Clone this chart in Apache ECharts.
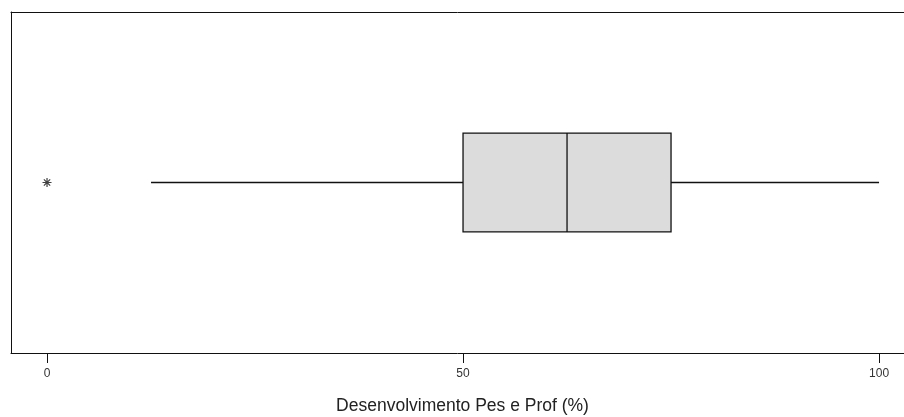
<!DOCTYPE html>
<html>
<head>
<meta charset="utf-8">
<script src="https://cdn.jsdelivr.net/npm/echarts@6/dist/echarts.min.js"></script>
<style>html,body{margin:0;padding:0;background:#fff;}#c{width:904px;height:417px;}</style>
</head>
<body>
<div id="c"></div>
<script>
var categories = ['Desenvolvimento Pes e Prof'];
// [lowerWhisker, Q1, median, Q3, upperWhisker]
var boxStats = [[12.5, 50, 62.5, 75, 100]];
var outliers = [[0, 0]];
var tickValues = [0, 50, 100];
var axisTitle = 'Desenvolvimento Pes e Prof (%)';

var chart = echarts.init(document.getElementById('c'), null, {renderer: 'canvas'});
var customData = boxStats.map(function (s, i) { return [i].concat(s); });

chart.setOption({
  animation: false,
  backgroundColor: '#fff',
  grid: {left: 11, top: 12, right: 0, bottom: 64, show: false, containLabel: false, outerBoundsMode: 'none'},
  xAxis: [{
    type: 'value', min: -4.33, max: 103.0,
    splitLine: {show: false},
    axisLine: {show: true, lineStyle: {color: '#111', width: 1}},
    axisTick: {show: true, length: 10, inside: false, customValues: tickValues, lineStyle: {color: '#111'}},
    axisLabel: {show: true, customValues: tickValues, margin: 15, fontFamily: 'Liberation Sans, Arial, sans-serif', fontSize: 12, color: '#333'},
    name: axisTitle, nameLocation: 'middle', nameGap: 44,
    nameTextStyle: {fontFamily: 'Liberation Sans, Arial, sans-serif', fontSize: 17.5, color: '#222', padding: [0, 0, 0, 10]}
  }, {
    type: 'value', position: 'top', min: -4.33, max: 103.0,
    splitLine: {show: false}, axisTick: {show: false}, axisLabel: {show: false},
    axisLine: {show: true, lineStyle: {color: '#111', width: 1}}
  }],
  yAxis: {
    type: 'category', data: categories, position: 'left',
    axisLine: {show: true, onZero: false, lineStyle: {color: '#111', width: 1}},
    axisTick: {show: false}, axisLabel: {show: false}, splitLine: {show: false}
  },
  series: [
    {
      type: 'custom',
      data: customData,
      encode: {x: [1, 2, 3, 4, 5], y: 0},
      renderItem: function (params, api) {
        var cat = api.value(0);
        var lo = api.coord([api.value(1), cat]);
        var q1 = api.coord([api.value(2), cat]);
        var md = api.coord([api.value(3), cat]);
        var q3 = api.coord([api.value(4), cat]);
        var hi = api.coord([api.value(5), cat]);
        var band = api.size([0, 1])[1];
        var h = band * 0.29 / 2;
        var y = lo[1];
        var ls = {stroke: '#111', lineWidth: 1.3, fill: null};
        return {
          type: 'group',
          children: [
            {type: 'line', shape: {x1: lo[0], y1: y, x2: q1[0], y2: y}, style: ls},
            {type: 'line', shape: {x1: q3[0], y1: y, x2: hi[0], y2: y}, style: ls},
            {type: 'rect', shape: {x: q1[0], y: y - h, width: q3[0] - q1[0], height: 2 * h}, style: {fill: '#dcdcdc', stroke: '#111', lineWidth: 1.3}},
            {type: 'line', shape: {x1: md[0], y1: y - h, x2: md[0], y2: y + h}, style: ls}
          ]
        };
      }
    },
    {
      type: 'scatter',
      data: outliers,
      symbol: 'path://M0,-1L0,1M-1,0L1,0M-0.7,-0.7L0.7,0.7M-0.7,0.7L0.7,-0.7',
      symbolSize: 9,
      itemStyle: {color: 'none', borderColor: '#111', borderWidth: 1.2}
    }
  ]
});
</script>
</body>
</html>
